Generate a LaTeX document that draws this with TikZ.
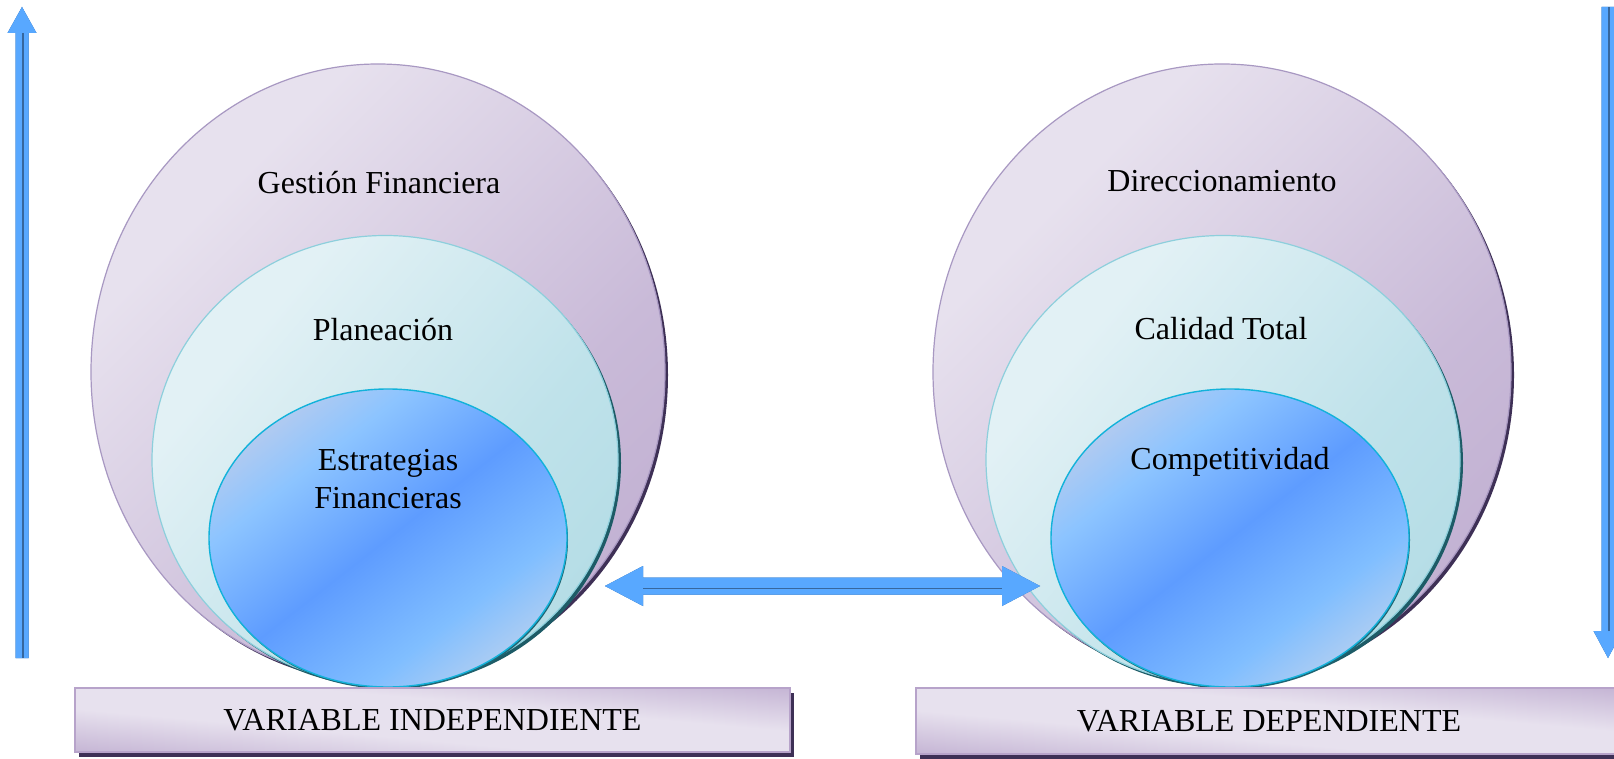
\documentclass[tikz,border=0pt]{standalone}
\usepackage{fontspec}
\setmainfont{Liberation Serif}
\usetikzlibrary{shapes.geometric,shadows,calc}

% palette
\definecolor{lilacA}{HTML}{E7E1EE}
\definecolor{lilacB}{HTML}{C9BAD8}
\definecolor{lilacC}{HTML}{B7A3CA}
\definecolor{lilacEdge}{HTML}{A898C2}
\definecolor{lilacShadow}{HTML}{3E3056}
\definecolor{aquaA}{HTML}{E2F1F5}
\definecolor{aquaB}{HTML}{BFE2EA}
\definecolor{aquaC}{HTML}{A6D5E0}
\definecolor{aquaEdge}{HTML}{8DCFDC}
\definecolor{aquaShadow}{HTML}{1D5B66}
\definecolor{blueGreyA}{HTML}{C6CEE8}
\definecolor{blueLight}{HTML}{8CC4FF}
\definecolor{blueDeep}{HTML}{5E9CFF}
\definecolor{blueLightB}{HTML}{80BEFF}
\definecolor{blueGreyB}{HTML}{C3D4EC}
\definecolor{blueEdge}{HTML}{12B2DA}
\definecolor{blueShadow}{HTML}{1E6472}
\definecolor{arrMain}{HTML}{58A8FF}
\definecolor{arrDark}{HTML}{36679E}
\definecolor{arrLight}{HTML}{9ACDFF}

\pgfdeclarehorizontalshading{lilacshade}{100bp}{color(0bp)=(lilacA); color(30bp)=(lilacA); color(62bp)=(lilacB); color(100bp)=(lilacC)}
\pgfdeclarehorizontalshading{aquashade}{100bp}{color(0bp)=(aquaA); color(30bp)=(aquaA); color(60bp)=(aquaB); color(100bp)=(aquaC)}
\pgfdeclarehorizontalshading{blueshade}{100bp}{color(0bp)=(blueGreyA); color(20bp)=(blueGreyA); color(34bp)=(blueLight); color(50bp)=(blueDeep); color(66bp)=(blueLightB); color(80bp)=(blueGreyB); color(100bp)=(blueGreyB)}
% across the bar: purple at both long edges, pale along the diagonal
\pgfdeclareverticalshading{barshade}{100bp}{color(0bp)=(lilacC); color(18bp)=(lilacC); color(42bp)=(lilacA); color(58bp)=(lilacA); color(82bp)=(lilacC); color(100bp)=(lilacC)}

\tikzset{
  lbl/.style={font=\fontsize{32}{38.4}\selectfont, align=center, inner sep=0pt},
  outerring/.style={ellipse, inner sep=0pt, shading=lilacshade, shading angle=-45,
    draw=lilacEdge, line width=1.2pt,
    general shadow={shadow xshift=3pt, shadow yshift=-3pt, fill=lilacShadow}},
  midring/.style={ellipse, inner sep=0pt, shading=aquashade, shading angle=-40,
    draw=aquaEdge, line width=1.2pt,
    general shadow={shadow xshift=3pt, shadow yshift=-3pt, fill=aquaShadow}},
  core/.style={ellipse, inner sep=0pt, shading=blueshade, shading angle=-52,
    draw=blueEdge, line width=1.4pt,
    general shadow={shadow xshift=1pt, shadow yshift=-2pt, fill=blueShadow}},
  bar/.style={rectangle, inner sep=0pt, fill=lilacA,
    draw=lilacC, line width=1.5pt,
    general shadow={shadow xshift=4pt, shadow yshift=-5pt, fill=lilacShadow},
    path picture={
      \begin{scope}[transform canvas={rotate around={-5.1:(path picture bounding box.center)}}]
        \shade[shading=barshade]
          ($(path picture bounding box.center)+(-420,-64)$) rectangle
          ($(path picture bounding box.center)+(420,64)$);
      \end{scope}}},
}

\begin{document}
\begin{tikzpicture}[x=1pt, y=-1pt]
\clip (0,0) rectangle (1614,759);
\fill[white] (0,0) rectangle (1614,759);

% ---- left group
\node[outerring, minimum width=574pt, minimum height=616pt] (gf) at (378,372) {};
\node[midring, minimum width=466pt, minimum height=449pt] (pl) at (385,460) {};
\node[core, minimum width=358pt, minimum height=298pt] (ef) at (388,538) {};
\node[lbl] (tgf) at (379,183) {Gestión Financiera};
\node[lbl] (tpl) at (383,330) {Planeación};
\node[lbl] (tef) at (388,479) {Estrategias\\Financieras};

% ---- right group
\node[outerring, minimum width=578pt, minimum height=616pt] (di) at (1222,372) {};
\node[midring, minimum width=474pt, minimum height=449pt] (ct) at (1223,460) {};
\node[core, minimum width=358pt, minimum height=298pt] (co) at (1230,538) {};
\node[lbl] (tdi) at (1222,181) {Direccionamiento};
\node[lbl] (tct) at (1221,329) {Calidad Total};
\node[lbl] (tco) at (1230,462) {Competitividad};

% ---- variable bars
\node[bar, minimum width=715pt, minimum height=64pt] (vi) at (432.5,720) {};
\node[lbl] at (vi) {VARIABLE INDEPENDIENTE};
\node[bar, minimum width=706pt, minimum height=66pt] (vd) at (1269,721) {};
\node[lbl] at (vd) {VARIABLE DEPENDIENTE};

% ---- link between the two groups (block double arrow)
\coordinate (lt) at (605,586);
\coordinate (rt) at (1040,586);
\foreach \dx/\dy/\col in {2/4/arrLight, 0/-2/arrDark, 0/0/arrMain}{
  \fill[\col, shift={(\dx,\dy)}] (lt) -- ++(38,-20) -- ++(0,11.5) -- ($(rt)+(-38,-8.5)$)
    -- ++(0,-11.5) -- (rt) -- ++(-38,20) -- ++(0,-11.5) -- ($(lt)+(38,8.5)$)
    -- ++(0,11.5) -- cycle;
}
\draw[arrDark, line width=1.6pt] ($(lt)+(38,2.5)$) -- ($(rt)+(-38,2.5)$);

% ---- rising arrow on the left edge
\coordinate (ut) at (22,7);
\coordinate (ub) at (22,658);
\foreach \dx/\dy/\col in {-3/-1/arrLight, 3/2/arrDark, 0/0/arrMain}{
  \fill[\col, shift={(\dx,\dy)}] (ut) -- ++(14.5,26) -- ++(-8,0) -- ($(ub)+(6.5,0)$)
    -- ++(-13,0) -- ($(ut)+(-6.5,26)$) -- ++(-8,0) -- cycle;
}
\draw[arrDark, line width=1.4pt] ($(ut)+(1,26)$) -- ($(ub)+(1,0)$);

% ---- falling arrow on the right edge
\coordinate (dt) at (1608,658);
\coordinate (db) at (1608,7);
\foreach \dx/\dy/\col in {-3/-1/arrLight, 3/2/arrDark, 0/0/arrMain}{
  \fill[\col, shift={(\dx,\dy)}] (dt) -- ++(14.5,-27) -- ++(-8,0) -- ($(db)+(6.5,0)$)
    -- ++(-13,0) -- ($(dt)+(-6.5,-27)$) -- ++(-8,0) -- cycle;
}
\draw[arrDark, line width=1.4pt] ($(dt)+(1,-27)$) -- ($(db)+(1,0)$);
\end{tikzpicture}
\end{document}
